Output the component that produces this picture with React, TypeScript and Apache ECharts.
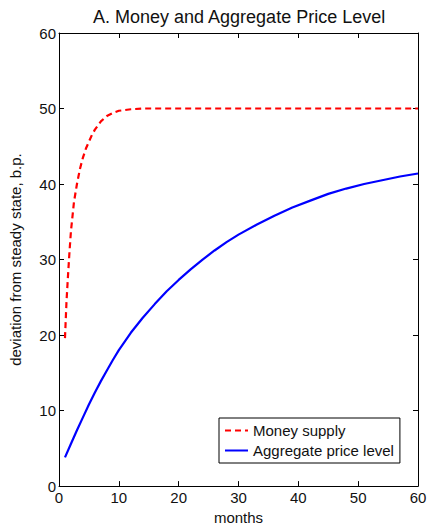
import React, { useEffect, useRef } from "react";
import * as echarts from "echarts";

// Months at which each path is sampled
const moneyMonths = [1, 1.25, 1.5, 1.75, 2, 2.5, 3, 3.5, 4, 4.5, 5, 5.5, 6, 7, 8, 9, 10, 11, 12, 14, 20, 30, 40, 50, 60];
// Money supply, deviation from steady state (b.p.)
const moneySupply = [19.6, 24.4, 27.8, 31.0, 33.8, 37.6, 40.0, 42.0, 43.5, 44.7, 45.6, 46.5, 47.2, 48.3, 49.0, 49.4, 49.7, 49.8, 49.9, 50.0, 50.0, 50.0, 50.0, 50.0, 50.0];

const priceMonths = [1, 2, 3, 4, 5, 6, 7, 8, 9, 10, 12, 14, 16, 18, 20, 22, 24, 26, 28, 30, 33, 36, 39, 42, 45, 48, 51, 54, 57, 60];
// Aggregate price level, deviation from steady state (b.p.)
const priceLevel = [3.8, 5.6, 7.4, 9.1, 10.8, 12.4, 13.9, 15.3, 16.7, 18.0, 20.3, 22.3, 24.1, 25.8, 27.3, 28.7, 30.0, 31.2, 32.3, 33.3, 34.6, 35.8, 36.9, 37.8, 38.7, 39.4, 40.0, 40.5, 41.0, 41.4];

const seriesNames = ["Money supply", "Aggregate price level"];
const titleText = "A. Money and Aggregate Price Level";
const xName = "months";
const yName = "deviation from steady state, b.p.";

const FONT = "'Liberation Sans', Arial, Helvetica, sans-serif";

const pairs = (xs: number[], ys: number[]) => xs.map((x, i) => [x, ys[i]]);

export default function App() {
  const ref = useRef<HTMLDivElement>(null);

  useEffect(() => {
    if (!ref.current) return;
    const chart = echarts.init(ref.current, undefined, { renderer: "svg" });

    const axisCommon = {
      min: 0,
      max: 60,
      interval: 10,
      axisLine: { show: true, onZero: false, lineStyle: { color: "#000", width: 1 } },
      axisTick: { show: true, inside: true, length: 5, lineStyle: { color: "#000", width: 1 } },
      splitLine: { show: false },
    };

    chart.setOption({
      animation: false,
      backgroundColor: "#fff",
      textStyle: { fontFamily: FONT },
      title: {
        text: titleText,
        left: 88,
        top: 3,
        textStyle: { fontFamily: FONT, fontSize: 18, fontWeight: "normal", color: "#111" },
      },
      grid: { left: 57, right: 12, top: 33, bottom: 33, containLabel: false },
      legend: {
        orient: "vertical",
        left: 219,
        top: 418,
        data: seriesNames,
        itemWidth: 23,
        itemHeight: 14,
        itemGap: 5,
        padding: [5, 6, 5, 5],
        borderColor: "#000",
        borderWidth: 1,
        borderRadius: 0,
        backgroundColor: "#fff",
        itemStyle: { opacity: 0 },
        textStyle: { fontFamily: FONT, fontSize: 15, color: "#111" },
      },
      xAxis: [
        {
          type: "value",
          position: "bottom",
          ...axisCommon,
          name: xName,
          nameLocation: "middle",
          nameGap: 18,
          nameTextStyle: { fontFamily: FONT, fontSize: 15, color: "#111" },
          axisLabel: { show: true, margin: 4, fontFamily: FONT, fontSize: 15, color: "#111" },
        },
        {
          type: "value",
          position: "top",
          ...axisCommon,
          axisLabel: { show: false },
        },
      ],
      yAxis: [
        {
          type: "value",
          position: "left",
          ...axisCommon,
          name: yName,
          nameLocation: "middle",
          nameGap: 36,
          nameTextStyle: { fontFamily: FONT, fontSize: 15, color: "#111" },
          axisLabel: { show: true, margin: 3, fontFamily: FONT, fontSize: 15, color: "#111" },
        },
        {
          type: "value",
          position: "right",
          ...axisCommon,
          axisLabel: { show: false },
        },
      ],
      series: [
        {
          name: seriesNames[0],
          type: "line",
          data: pairs(moneyMonths, moneySupply),
          smooth: false,
          symbol: "none",
          lineStyle: { color: "#ff0000", width: 2.2, type: [6, 4] },
          itemStyle: { color: "#ff0000" },
        },
        {
          name: seriesNames[1],
          type: "line",
          data: pairs(priceMonths, priceLevel),
          smooth: false,
          symbol: "none",
          lineStyle: { color: "#0000ff", width: 2.2, type: "solid" },
          itemStyle: { color: "#0000ff" },
        },
      ],
    });

    return () => chart.dispose();
  }, []);

  return <div ref={ref} style={{ width: 430, height: 530, position: "absolute", left: 0, top: 0 }} />;
}
